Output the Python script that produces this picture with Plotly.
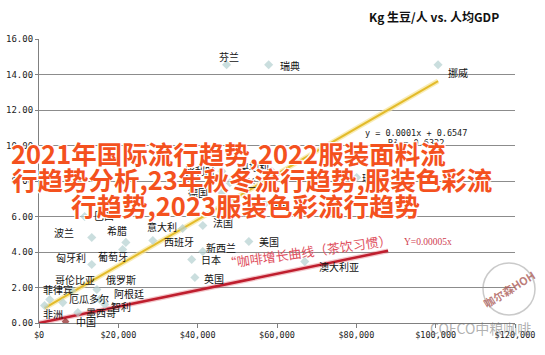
import plotly.graph_objects as go

# ---------------- data ----------------
chart_title = "Kg 生豆/人 vs. 人均GDP"
countries = ["芬兰", "瑞典", "挪威", "瑞士", "丹麦", "比利时", "奥地利", "荷兰", "德国",
             "巴西", "波兰", "希腊", "意大利", "西班牙", "法国", "美国", "新西兰", "日本",
             "英国", "澳大利亚", "匈牙利", "葡萄牙", "哥伦比亚", "俄罗斯", "菲律宾",
             "厄瓜多尔", "阿根廷", "智利", "墨西哥", "非洲", "中国"]
gdp_per_capita = [47300, 57900, 100600, 80100, 56900, 46100, 58700, 48100, 46100,
                  11500, 13300, 21900, 36200, 28700, 41300, 52900, 41300, 38500,
                  39300, 67000, 13300, 21100, 8250, 14600, 2700,
                  6000, 15300, 16600, 9800, 1400, 6700]
kg_per_capita = [14.55, 14.55, 14.55, 8.2, 6.7, 8.55, 8.55, 7.9, 7.35,
                 6.0, 4.82, 4.54, 5.32, 4.65, 5.49, 4.59, 4.03, 3.58,
                 2.56, 3.46, 3.30, 4.14, 1.83, 1.89, 1.32,
                 1.15, 1.32, 1.04, 0.59, 0.99, 0.08]
highlight_country = "中国"

trend_slope = 0.000129
trend_intercept = 0.6547
trend_label = "y = 0.0001x + 0.6547"
r2_label = "R² = 0.6332"

coffee_slope = 0.0000462
coffee_x_range = [0, 88000]
coffee_label = "“咖啡增长曲线（茶饮习惯）"
coffee_eq = "Y=0.00005x"

overlay_lines = ["2021年国际流行趋势,2022服装面料流",
                 "行趋势分析,23年秋冬流行趋势,服装色彩流",
                 "行趋势,2023服装色彩流行趋势"]
stamp_text = "咖尔森HOH"
brand_text = "COFCO中粮咖啡"

y_ticks = [0, 2, 4, 6, 8, 10, 12, 14, 16]
x_ticks = [0, 20000, 40000, 60000, 80000, 100000, 120000]
x_tick_labels = ["$0", "$20,000", "$40,000", "$60,000", "$80,000", "$100,000", "$120,000"]

# ---------------- styles (label offsets in px) ----------------
label_dx = [2, 21, 20, 15, 15, -22, -18, 16, -24,
            19, -28, -9, -21, 26, 20, 20, 18, 19,
            19, 34, -21, -10, 3, 24, 8,
            26, 29, 16, 23, 8, 20]
label_dy = [-8, 1, 8, 0, 0, -1, -5, 0, 0,
            -1, -5, -12, -2, 1, -3, 0, -4, 0,
            1, 5, -7, 7, -11, -10, -10,
            -4, -6, 2, 0, 8, 0]

W, H = 545, 355
ML, MR, MT, MB = 39, 30, 39, 32
PW, PH = W - ML - MR, H - MT - MB


def px_to_paper(px, py):
    return (px - ML) / PW, (H - MB - py) / PH


fig = go.Figure()

# trend line (yellow)
tx = [min(gdp_per_capita), max(gdp_per_capita)]
ty = [trend_intercept + trend_slope * v for v in tx]
fig.add_trace(go.Scatter(x=tx, y=ty, mode="lines",
                         line=dict(color="rgba(246,228,150,0.7)", width=5),
                         hoverinfo="skip", showlegend=False))
fig.add_trace(go.Scatter(x=tx, y=ty, mode="lines",
                         line=dict(color="#e3bb2a", width=2),
                         hoverinfo="skip", showlegend=False))

# coffee line (red)
cy = [coffee_slope * v for v in coffee_x_range]
fig.add_trace(go.Scatter(x=coffee_x_range, y=cy, mode="lines",
                         line=dict(color="rgba(220,90,100,0.35)", width=5),
                         hoverinfo="skip", showlegend=False))
fig.add_trace(go.Scatter(x=coffee_x_range, y=cy, mode="lines",
                         line=dict(color="#bf1e2e", width=2.5),
                         hoverinfo="skip", showlegend=False))

# points
colors = ["#8b1c1c" if c == highlight_country else "#b3d0d0" for c in countries]
sizes = [6 if c == highlight_country else 7 for c in countries]
fig.add_trace(go.Scatter(x=gdp_per_capita, y=kg_per_capita, mode="markers",
                         marker=dict(symbol="diamond", color=colors, size=sizes,
                                     line=dict(width=0)),
                         text=countries, hoverinfo="text", showlegend=False))

annotations = []
for c, g, k, dx, dy in zip(countries, gdp_per_capita, kg_per_capita, label_dx, label_dy):
    annotations.append(dict(x=g, y=k, xref="x", yref="y", text=c, showarrow=False,
                            xshift=dx, yshift=-dy, xanchor="center", yanchor="middle",
                            font=dict(family="Noto Sans CJK SC", size=10, color="#111")))

# title
tx_, ty_ = px_to_paper(434, 16)
annotations.append(dict(x=tx_, y=ty_, xref="paper", yref="paper", text="<b>" + chart_title + "</b>",
                        showarrow=False, xanchor="center", yanchor="middle",
                        font=dict(family="Noto Sans CJK SC", size=12, color="#111")))

# trend equation
ex, ey = px_to_paper(416, 133)
annotations.append(dict(x=ex, y=ey, xref="paper", yref="paper", text=trend_label,
                        showarrow=False, xanchor="center", yanchor="middle",
                        font=dict(family="DejaVu Sans Mono", size=8.5, color="#222")))
ex, ey = px_to_paper(416, 143)
annotations.append(dict(x=ex, y=ey, xref="paper", yref="paper", text=r2_label,
                        showarrow=False, xanchor="center", yanchor="middle",
                        font=dict(family="DejaVu Sans Mono", size=8.5, color="#222")))

# coffee annotation
ax_, ay_ = px_to_paper(307, 251)
annotations.append(dict(x=ax_, y=ay_, xref="paper", yref="paper", text=coffee_label,
                        showarrow=False, xanchor="center", yanchor="middle", textangle=-8,
                        font=dict(family="Noto Sans CJK SC", size=13, color="#e0505e")))
ax_, ay_ = px_to_paper(428, 242)
annotations.append(dict(x=ax_, y=ay_, xref="paper", yref="paper", text=coffee_eq,
                        showarrow=False, xanchor="center", yanchor="middle",
                        font=dict(family="Liberation Serif", size=9.5, color="#d04050")))

# stamp + brand
sx, sy = px_to_paper(509, 289)
annotations.append(dict(x=sx, y=sy, xref="paper", yref="paper", text="<b>" + stamp_text + "</b>",
                        showarrow=False, xanchor="center", yanchor="middle", textangle=-32,
                        font=dict(family="Noto Sans CJK SC", size=11, color="rgba(170,90,85,0.8)")))
bx, by = px_to_paper(480, 328)
annotations.append(dict(x=bx, y=by, xref="paper", yref="paper", text=brand_text,
                        showarrow=False, xanchor="center", yanchor="middle",
                        font=dict(family="Noto Sans CJK SC", size=14, color="rgba(110,110,110,0.55)")))

# overlay text
overlay_centers = [(228, 152), (252, 178), (245, 204)]
for line, (cx, cyy) in zip(overlay_lines, overlay_centers):
    ox, oy = px_to_paper(cx, cyy)
    annotations.append(dict(x=ox, y=oy, xref="paper", yref="paper", text=line,
                            showarrow=False, xanchor="center", yanchor="middle",
                            font=dict(family="Noto Sans CJK SC", size=25.5, color="#f4511e",
                                      weight="bold",
                                      shadow="1px 1px 0 #fff, -1px -1px 0 #fff, 1px -1px 0 #fff, -1px 1px 0 #fff")))

c0x, c0y = px_to_paper(483, 315)
c1x, c1y = px_to_paper(535, 263)
shapes = [dict(type="circle", xref="paper", yref="paper", x0=c0x, y0=c0y, x1=c1x, y1=c1y,
               line=dict(color="rgba(150,150,150,0.5)", width=1.5))]

fig.update_layout(
    width=W, height=H,
    margin=dict(l=ML, r=MR, t=MT, b=MB, autoexpand=False),
    paper_bgcolor="white", plot_bgcolor="white",
    annotations=annotations, shapes=shapes,
    xaxis=dict(range=[0, 120000], tickvals=x_ticks, ticktext=x_tick_labels, automargin=False,
               showgrid=False, zeroline=False, showline=True, linecolor="#808080", linewidth=1.2,
               ticks="outside", ticklen=4, tickcolor="#808080",
               tickfont=dict(family="DejaVu Sans Mono", size=8.5, color="#222")),
    yaxis=dict(range=[0, 16], tickvals=y_ticks, tickformat=".2f", automargin=False,
               showgrid=True, gridcolor="#8c8c8c", gridwidth=1, zeroline=False,
               showline=True, linecolor="#808080", linewidth=1.2,
               ticks="outside", ticklen=3, tickcolor="#808080",
               tickfont=dict(family="DejaVu Sans Mono", size=9, color="#222")),
)

fig.write_html("out.html", config={"displayModeBar": False},
               post_script="document.body.style.margin='0';document.body.style.overflow='hidden';")
